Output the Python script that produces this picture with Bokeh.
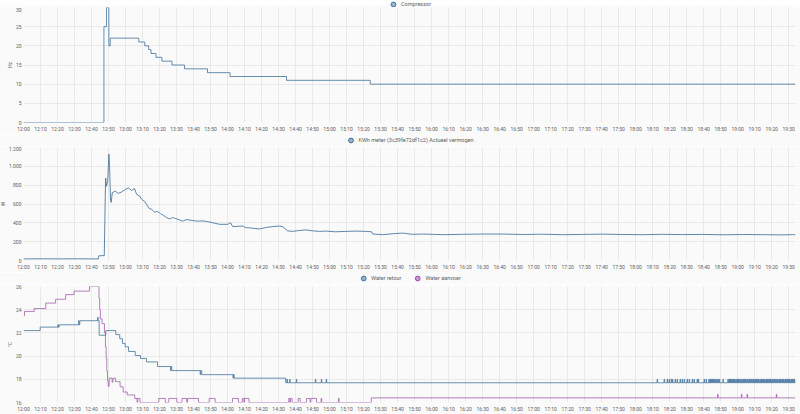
import numpy as np
import pandas as pd
from bokeh.plotting import figure
from bokeh.layouts import column
from bokeh.models import (Range1d, FixedTicker, DatetimeTickFormatter,
                          Legend, LegendItem)
from bokeh.embed import file_html
from bokeh.resources import INLINE

# ---------------- data (minutes after 12:00) ----------------
START = "2024-03-01 12:00"
END_MIN = 454
TICK_STEP_MIN = 10

comp_t = [0, 47.3, 48.8, 50.2, 51.0, 67.8, 71.3, 73.6, 75.0, 77.9, 81.4, 87.3, 94.7, 108.2, 121.5, 154.7, 203.9]
comp_v = [0, 25, 30, 20, 22, 21, 20, 19, 18, 17, 16, 15, 14, 13, 12, 11, 10]

power_t = [0, 10, 20, 30, 40, 44, 44.3, 47.5, 48.0, 48.3, 48.8, 49.5, 50.2, 50.6, 51.2, 51.6, 52.2,
           54.0, 55.7, 57.5, 59.9, 61.7, 63.5, 65.3, 66.5, 68.3, 69.4, 71.2, 72.9, 74.1, 75.3, 77.1,
           78.8, 80.6, 82.4, 84.1, 85.9, 87.6, 89.4, 91.2, 93.5, 95.9, 98.2, 100.6, 102.9, 105.3,
           107.6, 108.8, 111.2, 115.3, 120.0, 121.8, 123.0, 128.8, 130.6, 134.7, 138.8, 142.4,
           146.5, 150.6, 152.4, 155.3, 158.2, 162.4, 165.9, 170.0, 174.1, 177.6, 183.5, 189.4,
           195.3, 201.2, 204.7, 205.3, 211.2, 217.0, 223.0, 228.8, 234.7, 240.6, 246.5, 258.2,
           270.0, 281.8, 293.5, 305.3, 317.0, 328.8, 340.6, 352.4, 364.1, 375.9, 387.6, 399.4,
           411.2, 422.9, 434.7, 446.5, 452.4, 454.0]
power_v = [17, 18, 17, 18, 17, 17, 50, 52, 600, 874, 788, 840, 1131, 1011, 634, 617, 720,
           737, 713, 726, 754, 771, 744, 764, 703, 685, 651, 628, 582, 548, 545, 514,
           521, 497, 479, 456, 442, 456, 446, 435, 418, 435, 428, 421, 418, 421,
           414, 411, 401, 384, 384, 401, 360, 366, 350, 343, 335, 350,
           360, 366, 360, 315, 309, 319, 325, 315, 309, 312, 305, 309,
           312, 309, 305, 281, 274, 284, 291, 278, 281, 278, 274, 278,
           281, 281, 276, 279, 274, 277, 280, 276, 274, 278, 275, 277,
           273, 276, 274, 272, 275, 273]

retour_t = [0, 9.8, 21.0, 33.1, 44.5, 48.4, 54.3, 56.6, 58.2, 59.8, 61.8, 65.7, 68.8, 72.3, 78.8,
            87.2, 104.8, 123.9, 154.2]
retour_v = [22.2, 22.5, 22.7, 23.05, 21.8, 22.2, 21.85, 21.5, 21.1, 20.8, 20.4, 20.05, 19.8, 19.5,
            19.1, 18.75, 18.4, 18.1, 17.7]
retour_spk_t = [20.2, 32.4, 43.6, 86.5, 103.9, 123.2]
retour_spk_v = [22.7, 23.05, 23.35, 18.75, 18.4, 18.1]
retour_late_spk_t = [154.9, 156.5, 160.4, 171.6, 175.1, 178.0,
                     372.6, 376.7, 378.5, 379.7, 380.9, 381.6, 383.2, 384.4, 386.1, 387.3, 388.5,
                     390.2, 391.4, 393.2, 394.3, 396.1, 396.8, 400.2, 401.4, 403.0, 403.7, 404.3,
                     405.1, 405.6, 406.4, 407.0, 407.8, 408.5, 409.2, 411.3, 414.2, 414.9, 415.5,
                     416.2, 416.8, 417.5, 418.1, 418.9, 419.7, 420.2, 421.0, 421.8, 422.4, 423.2,
                     423.8, 424.5, 425.3, 425.9, 426.7, 427.3, 428.0, 428.8, 429.4, 430.2, 430.8,
                     431.6, 432.2, 433.0, 433.7, 434.3, 435.2, 435.8, 436.6, 437.2, 437.9, 438.7,
                     439.3, 440.1, 440.7, 441.5, 442.1, 442.9, 443.5, 444.3, 444.9, 445.6, 446.4,
                     447.0, 447.8, 448.4, 449.1, 449.9, 450.5, 451.3, 451.9, 452.6, 453.4]
RETOUR_LATE_LEVEL = 18.0
SPIKE_LEN = 0.3

aanvoer_t = [0, 0.6, 6.3, 13.1, 18.9, 24.8, 29.7, 38.8, 44.4, 44.8, 45.2, 46.2, 47.6, 48.2, 48.6,
             49.0, 49.4, 49.8, 50.4, 52.1, 52.6, 54.1, 56.8, 58.6, 61.0, 65.4, 66.8, 67.2, 68.5,
             79.5, 83.4, 85.4, 90.2, 93.2, 96.0, 96.5, 102.9, 109.2, 112.7, 122.9, 126.4, 128.7,
             129.6, 130.0, 132.6, 156.0, 156.6, 157.0, 158.0, 161.5, 162.7, 166.4, 168.5, 169.0,
             172.3, 175.0, 175.4, 185.2, 185.6, 204.5]
aanvoer_v = [23.5, 23.85, 24.1, 24.57, 24.9, 25.3, 25.6, 26.0, 25.0, 24.0, 23.2, 22.8, 22.0, 20.8, 19.8,
             18.7, 17.9, 17.4, 18.1, 17.75, 18.1, 17.8, 17.35, 16.9, 16.65, 16.35, 16.0, 16.35, 16.0,
             16.35, 16.0, 16.35, 16.0, 16.35, 16.0, 16.35, 16.0, 16.35, 16.0, 16.35, 16.0, 16.35,
             16.0, 16.35, 16.0, 16.35, 16.0, 16.35, 16.0, 16.35, 16.0, 16.35, 16.0, 16.35,
             16.0, 16.35, 16.0, 16.35, 16.0, 16.4]
aanvoer_spk_t = [408.2, 422.2, 425.5, 442.7]
aanvoer_spk_v = [16.7, 16.7, 16.7, 16.7]

comp_yticks = [0, 5, 10, 15, 20, 25, 30]
power_yticks = [0, 200, 400, 600, 800, 1000, 1200]
power_ylabels = ["0", "200", "400", "600", "800", "1.000", "1.200"]
water_yticks = [16, 18, 20, 22, 24, 26]

BASE = pd.Timestamp(START)


def to_dt(mins):
    return BASE + pd.to_timedelta(np.asarray(mins, dtype=float), unit="m")


def to_ms(mins):
    return [(BASE + pd.Timedelta(minutes=float(m))).value // 10**6 for m in mins]


def extend(t, v):
    return list(t) + [END_MIN], list(v) + [v[-1]]


def with_spikes(bt, bv, st, sv, dur):
    bt_arr = np.asarray(bt, dtype=float)
    pts = list(zip(bt, bv))
    for t, v in zip(st, sv):
        i = int(np.searchsorted(bt_arr, t + dur, side="right")) - 1
        pts.append((t, v))
        pts.append((t + dur, bv[i]))
    pts.sort(key=lambda a: a[0])
    return [a[0] for a in pts], [a[1] for a in pts]


BLUE = "#44739e"
PURPLE = "#984ea3"
BG = "#fafafa"
GRID = "#e9e9e9"
TXT = "#5e5e5e"
FONT = "Roboto"
W = 804
BORDER_L = 21
BORDER_R = 5

x_ticks = to_ms(list(range(0, END_MIN, TICK_STEP_MIN)))
x_range = Range1d(start=BASE, end=BASE + pd.Timedelta(minutes=END_MIN))


def make_fig(height, y0, y1, yticks, ylabel, top):
    p = figure(width=W, height=height, x_axis_type="datetime", output_backend="svg",
               toolbar_location=None, x_range=x_range, y_range=Range1d(y0, y1),
               min_border_left=BORDER_L, min_border_right=BORDER_R, min_border_top=top,
               min_border_bottom=0)
    p.background_fill_color = BG
    p.border_fill_color = BG
    p.outline_line_color = None
    p.xaxis.ticker = FixedTicker(ticks=x_ticks)
    p.xaxis.formatter = DatetimeTickFormatter(minsec="%H:%M", minutes="%H:%M", hourmin="%H:%M",
                                              hours="%H:%M", days="%H:%M", context=None)
    p.yaxis.ticker = FixedTicker(ticks=yticks)
    p.yaxis.axis_label = ylabel
    for ax in (p.xaxis[0], p.yaxis[0]):
        ax.axis_line_color = None
        ax.major_tick_line_color = None
        ax.minor_tick_line_color = None
        ax.major_tick_out = 0
        ax.major_tick_in = 0
        ax.major_label_text_font = FONT
        ax.major_label_text_font_size = "5px"
        ax.major_label_text_color = TXT
        ax.major_label_standoff = 3
        ax.axis_label_text_font = FONT
        ax.axis_label_text_font_size = "5px"
        ax.axis_label_text_font_style = "normal"
        ax.axis_label_text_color = TXT
        ax.axis_label_standoff = 0
    p.yaxis.major_label_standoff = 2
    p.xgrid.grid_line_color = GRID
    p.ygrid.grid_line_color = GRID
    return p


def legend_fig(height, labels, firsts, colors):
    lf = figure(width=W, height=height, x_range=x_range, y_range=Range1d(0, 1),
                x_axis_location=None, y_axis_location=None, output_backend="svg",
                toolbar_location=None, min_border_left=BORDER_L, min_border_right=BORDER_R,
                min_border_top=0, min_border_bottom=0)
    lf.grid.visible = False
    lf.background_fill_color = BG
    lf.border_fill_color = BG
    lf.outline_line_color = None
    items = []
    for lab, (t, v), c in zip(labels, firsts, colors):
        r = lf.scatter(x=to_dt([t]), y=[v], size=0, marker="circle",
                       fill_color=c, fill_alpha=0.55, line_color=c, line_width=1)
        items.append(LegendItem(label=lab, renderers=[r]))
    leg = Legend(items=items, location="center", orientation="horizontal",
                 background_fill_alpha=0, border_line_color=None,
                 label_text_font=FONT, label_text_font_size="5.5px", label_text_color=TXT,
                 glyph_width=12, glyph_height=12, label_height=8, label_standoff=2,
                 spacing=10, padding=0, margin=0)
    lf.add_layout(leg)
    return lf


# ---------------- chart 1: compressor ----------------
l1 = legend_fig(7, ["Compressor"], [(comp_t[0], comp_v[0])], [BLUE])
p1 = make_fig(127, 0, 30, comp_yticks, "Hz", 0)
ct, cv = extend(comp_t, comp_v)
p1.step(x=to_dt(ct), y=cv, mode="after", line_color=BLUE, line_width=1, line_alpha=0.8)

# ---------------- chart 2: power ----------------
l2 = legend_fig(12, ["KWh meter (3c39fe72df1c2) Actueel vermogen"], [(power_t[0], power_v[0])], [BLUE])
p2 = make_fig(126, 0, 1200, power_yticks, "W", 1)
p2.yaxis.major_label_overrides = dict(zip(power_yticks, power_ylabels))
p2.line(x=to_dt(power_t), y=power_v, line_color=BLUE, line_width=1, line_alpha=0.85)

# ---------------- chart 3: water ----------------
rt, rv = with_spikes(retour_t, retour_v, retour_spk_t, retour_spk_v, SPIKE_LEN)
rt, rv = with_spikes(rt, rv, retour_late_spk_t, [RETOUR_LATE_LEVEL] * len(retour_late_spk_t), SPIKE_LEN)
rt, rv = extend(rt, rv)
at, av = with_spikes(aanvoer_t, aanvoer_v, aanvoer_spk_t, aanvoer_spk_v, SPIKE_LEN)
at, av = extend(at, av)
l3 = legend_fig(12, ["Water retour", "Water aanvoer"], [(rt[0], rv[0]), (at[0], av[0])], [BLUE, PURPLE])
p3 = make_fig(130, 16, 26, water_yticks, "°C", 2)
p3.step(x=to_dt(rt), y=rv, mode="after", line_color=BLUE, line_width=1, line_alpha=0.8)
p3.step(x=to_dt(at), y=av, mode="after", line_color=PURPLE, line_width=1, line_alpha=0.7)

# shift the stack slightly left so that the plot frames line up with the source (x ~ 21 .. 795)
layout = column(l1, p1, l2, p2, l3, p3, spacing=0, margin=(0, 0, 0, -4))
open("out.html", "w").write(file_html(layout, INLINE))
